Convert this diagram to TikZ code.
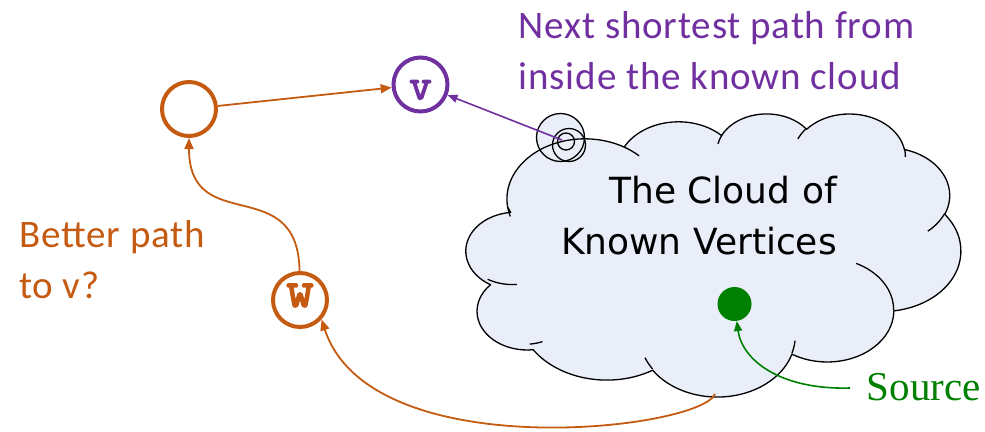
\documentclass[tikz,border=0pt]{standalone}
\usepackage{fontspec}
\setmainfont{Carlito}[LetterSpace=2.2]
\newfontfamily\cloudfont{DejaVu Sans}
\newfontfamily\srcfont{Liberation Serif}
\newfontfamily\vfont{Latin Modern Mono}[FakeBold=3]
\usetikzlibrary{arrows.meta}

\definecolor{ppOrange}{HTML}{C55A11}
\definecolor{ppPurple}{HTML}{7030A0}
\definecolor{ppGreen}{HTML}{008000}
\definecolor{cloudFill}{HTML}{E9EEF8}

% elliptical arc given by radii, visual start angle and sweep (y pointing down)
\newcommand\cloudarc[4]{arc[x radius=#1pt, y radius=#2pt,
  start angle={atan2(#1*sin(#3),#2*cos(#3))},
  delta angle={mod(atan2(#1*sin(#3+#4),#2*cos(#3+#4))-atan2(#1*sin(#3),#2*cos(#3))+720,360)}]}

% outline of the cloud in a 43.2 x 43.2 box
\newcommand\cloudpath{(3.900,14.370)
  \cloudarc{6.753}{9.190}{-190.48748}{123.78053}
  \cloudarc{5.333}{7.267}{-144.10238}{89.94523}
  \cloudarc{4.365}{5.945}{-145.80792}{99.72302}
  \cloudarc{4.857}{6.595}{-130.98607}{117.24173}
  \cloudarc{5.333}{7.273}{-78.70888}{109.02692}
  \cloudarc{6.775}{9.220}{-46.26725}{130.26900}
  \cloudarc{5.785}{7.867}{0.62502}{114.03333}
  \cloudarc{6.752}{9.215}{22.45160}{115.17255}
  \cloudarc{7.720}{10.543}{66.24263}{71.02445}
  \cloudarc{4.360}{5.918}{-274.94208}{146.73557}
  \cloudarc{4.345}{5.945}{-246.82850}{152.51885}
  -- cycle}

% creases inside the cloud
\newcommand\cloudcreases{
  (4.693,26.177) \cloudarc{4.345}{5.945}{86.74200}{26.42950}
  (6.928,34.899) \cloudarc{4.360}{5.918}{73.61047}{11.44747}
  (16.478,39.090) \cloudarc{6.752}{9.215}{137.62415}{14.08110}
  (28.827,34.751) \cloudarc{6.752}{9.215}{6.45327}{15.99835}
  (34.129,22.954) \cloudarc{5.785}{7.867}{-70.29235}{70.91737}
  (41.798,15.354) \cloudarc{5.333}{7.273}{30.31803}{27.75150}
  (38.324,5.426) \cloudarc{4.857}{6.595}{-13.74433}{14.86362}
  (29.078,3.952) \cloudarc{4.857}{6.595}{-149.18145}{18.19537}
  (22.141,4.720) \cloudarc{4.365}{5.945}{-163.49427}{17.68635}
  (14.000,5.192) \cloudarc{6.753}{9.190}{-66.70695}{12.31935}
  (4.127,15.789) \cloudarc{6.753}{9.190}{157.65435}{11.85817}}

\begin{document}
\begin{tikzpicture}[x=1pt, y=1pt,
  vertex/.style={circle, line width=4pt, minimum size=54pt, inner sep=0pt},
  outline/.style={draw=black, line width=1.3pt},
  oarrow/.style={draw=ppOrange, line width=1.8pt, -{Triangle[length=11pt, width=9pt]}},
  parrow/.style={draw=ppPurple, line width=1.6pt, -{Triangle[length=10pt, width=8pt]}},
  garrow/.style={draw=ppGreen, line width=1.6pt, -{Triangle[length=10pt, width=8pt]}},
  sidetext/.style={font=\fontsize{39}{51}\selectfont, align=left, inner sep=0pt, anchor=base west}]

\useasboundingbox (0,0) rectangle (985,-431);

% fills first: callout bubbles and cloud body
\fill[cloudFill] (560.5,-137.5) circle[radius=24];
\fill[cloudFill] (569,-145) circle[radius=16.5];
\begin{scope}[shift={(462.7,-113)}, xscale=11.528, yscale=-6.551]
  \fill[cloudFill] \cloudpath;
\end{scope}

% outlines on top of every fill
\begin{scope}[shift={(462.7,-113)}, xscale=11.528, yscale=-6.551]
  \draw[outline, line join=round] \cloudpath;
  \draw[outline] \cloudcreases;
\end{scope}
\draw[outline] (560.5,-137.5) circle[radius=24];
\draw[outline] (569,-145) circle[radius=16.5];
\draw[outline] (566,-141.5) circle[radius=8.5];

% labels (base anchor sits on the last line)
\node[sidetext, text=ppPurple] (nextlbl) at (518.5,-89)
  {Next shortest path from\\inside the known cloud};
\node[sidetext, text=ppOrange] (betterlbl) at (19,-298) {Better path\\to v?};
\node[font=\cloudfont\fontsize{36}{51}\selectfont, align=right, inner sep=0pt,
  anchor=base east] (cloudlbl) at (837,-254) {The Cloud of\\Known Vertices};
\node[font=\srcfont\fontsize{41}{41}\selectfont, text=ppGreen, inner sep=0pt,
  anchor=base west] (srclbl) at (866.5,-400) {Source};

% vertices
\node[vertex, draw=ppOrange] (c) at (189,-109) {};
\node[vertex, draw=ppPurple, text=ppPurple, font=\vfont\fontsize{44}{44}\selectfont,
  text height=29.6pt, text depth=0pt] (v) at (420.5,-84.5) {v};
\node[vertex, draw=ppOrange, text=ppOrange, font=\vfont\fontsize{53}{53}\selectfont,
  text height=13.4pt, text depth=0pt] (w) at (300,-300) {w};
\node[circle, fill=ppGreen, minimum size=34pt, inner sep=0pt] (src) at (734.5,-304) {};

% loose ends of connectors
\coordinate (bubbleTip) at (562,-140);
\coordinate (cloudTail) at (715,-394);
\coordinate (srcTail) at (850,-388);

% connectors
\draw[oarrow] (c) -- (v);
\draw[oarrow] (w) .. controls (298,-171) and (189,-238) .. (c);
\draw[oarrow] (cloudTail) .. controls (700,-430) and (370,-468) .. (w.318);
\draw[parrow] (bubbleTip) -- (v);
\draw[garrow] (srcTail) .. controls (780,-390) and (742,-360) .. (src);

\end{tikzpicture}
\end{document}
